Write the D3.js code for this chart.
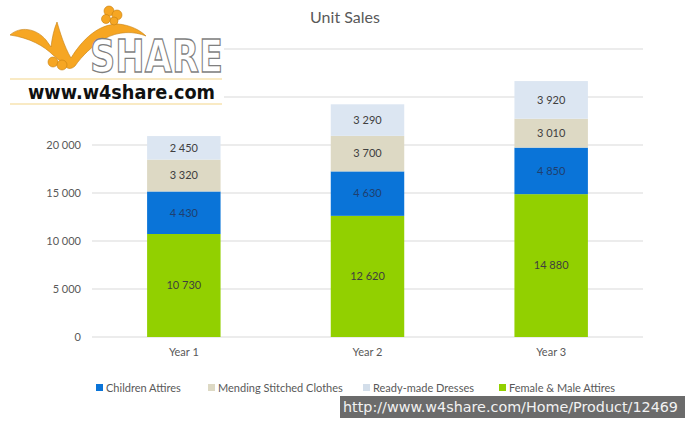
<!DOCTYPE html>
<html>
<head>
<meta charset="utf-8">
<script src="https://cdn.jsdelivr.net/npm/d3@7"></script>
<style>
  body { margin: 0; background: #fff; }
  svg { font-family: Lato, "Open Sans", sans-serif; }
</style>
</head>
<body>
<div id="chart"></div>
<script>
// data
const years = ["Year 1", "Year 2", "Year 3"];
const femaleMale = [10730, 12620, 14880];
const children = [4430, 4630, 4850];
const mending = [3320, 3700, 3010];
const readyMade = [2450, 3290, 3920];
const yTicks = [0, 5000, 10000, 15000, 20000, 25000, 30000];

const series = [
  { name: "Female & Male Attires", values: femaleMale, color: "#92d000", text: "#3f3f3f" },
  { name: "Children Attires", values: children, color: "#0a74d8", text: "#1f3f6f" },
  { name: "Mending Stitched Clothes", values: mending, color: "#ddd9c4", text: "#404040" },
  { name: "Ready-made Dresses", values: readyMade, color: "#dce6f2", text: "#404040" }
];
const legendOrder = [1, 2, 3, 0];

const W = 689, H = 423;
const svg = d3.select("#chart").append("svg").attr("width", W).attr("height", H);

const x = d3.scaleBand().domain(years).range([92, 643]).paddingInner(0.6).paddingOuter(0.3);
const y = d3.scaleLinear().domain([0, 30000]).range([337, 49]);
const fmt = v => d3.format(",")(v).replace(/,/g, " ");

// gridlines
svg.append("g").selectAll("line").data(yTicks).join("line")
  .attr("x1", 92).attr("x2", 643)
  .attr("y1", d => y(d)).attr("y2", d => y(d))
  .attr("stroke", "#d9d9d9").attr("stroke-width", 1);

// y labels (the top ones sit under the logo)
svg.append("g").selectAll("text").data(yTicks.filter(d => y(d) > 110)).join("text")
  .attr("x", 81).attr("y", d => y(d)).attr("dy", "0.35em")
  .attr("text-anchor", "end").attr("font-size", 11).attr("fill", "#595959")
  .text(d => fmt(d));

// stacked bars
const table = years.map((yr, i) => {
  const row = { year: yr };
  series.forEach(s => row[s.name] = s.values[i]);
  return row;
});
const stack = d3.stack().keys(series.map(s => s.name))(table);

stack.forEach((layer, li) => {
  const s = series[li];
  const g = svg.append("g");
  g.selectAll("rect").data(layer).join("rect")
    .attr("x", d => x(d.data.year))
    .attr("width", x.bandwidth())
    .attr("y", d => y(d[1]))
    .attr("height", d => y(d[0]) - y(d[1]))
    .attr("fill", s.color);
  g.selectAll("text").data(layer).join("text")
    .attr("x", d => x(d.data.year) + x.bandwidth() / 2)
    .attr("y", d => (y(d[0]) + y(d[1])) / 2)
    .attr("dy", "0.35em")
    .attr("text-anchor", "middle").attr("font-size", 11).attr("fill", s.text)
    .text(d => fmt(d[1] - d[0]));
});

// x labels
svg.append("g").selectAll("text").data(years).join("text")
  .attr("x", d => x(d) + x.bandwidth() / 2).attr("y", 356)
  .attr("text-anchor", "middle").attr("font-size", 11).attr("fill", "#595959")
  .text(d => d);

// title
svg.append("text").attr("x", 345).attr("y", 23)
  .attr("text-anchor", "middle").attr("font-size", 16).attr("fill", "#595959")
  .text("Unit Sales");

// legend
const legendX = [96, 208, 363, 499];
const lg = svg.append("g");
legendOrder.forEach((si, i) => {
  const s = series[si];
  lg.append("rect").attr("x", legendX[i]).attr("y", 384).attr("width", 7).attr("height", 7).attr("fill", s.color === "#dce6f2" ? "#d3deea" : s.color);
  lg.append("text").attr("x", legendX[i] + 10).attr("y", 388).attr("dy", "0.35em")
    .attr("font-size", 11).attr("fill", "#595959").text(s.name);
});

// logo
const logo = svg.append("g");
logo.append("rect").attr("x", 0).attr("y", 0).attr("width", 224).attr("height", 106).attr("fill", "#fff");
logo.append("path")
  .attr("d", "M10,35 C20,26 36,28 46,40 L51,47 C52,38 54,29 57,22 C60,32 64,46 71,58 C82,40 98,24 118,24 C130,25 140,30 146,36 C134,31 118,31 104,39 C92,46 82,56 75,66 C71,70 66,69 64,64 L53,55 C44,46 30,38 10,35 Z")
  .attr("fill", "#f6a623").attr("stroke", "#c67f10").attr("stroke-width", 0.6);
[[109, 11, 5], [117, 15, 5], [106, 19, 4.5], [114, 21, 4], [53, 62, 5], [62, 65, 5]].forEach(c => {
  logo.append("circle").attr("cx", c[0]).attr("cy", c[1]).attr("r", c[2])
    .attr("fill", "#f6a623").attr("stroke", "#c67f10").attr("stroke-width", 0.6);
});
logo.append("text").attr("x", 90).attr("y", 72)
  .attr("font-family", "'DejaVu Sans', sans-serif").attr("font-size", 44).attr("font-weight", "bold")
  .attr("textLength", 133).attr("lengthAdjust", "spacingAndGlyphs")
  .attr("fill", "#fff").attr("stroke", "#7f7f7f").attr("stroke-width", 1.3)
  .text("SHARE");
logo.append("line").attr("x1", 10).attr("x2", 222).attr("y1", 79).attr("y2", 79).attr("stroke", "#f3d58a").attr("stroke-width", 1.2);
logo.append("line").attr("x1", 10).attr("x2", 222).attr("y1", 104).attr("y2", 104).attr("stroke", "#f3d58a").attr("stroke-width", 1.2);
logo.append("text").attr("x", 28).attr("y", 99)
  .attr("font-family", "'DejaVu Sans', sans-serif").attr("font-size", 19).attr("font-weight", "bold")
  .attr("textLength", 187).attr("lengthAdjust", "spacingAndGlyphs")
  .attr("fill", "#111").text("www.w4share.com");

// watermark
svg.append("rect").attr("x", 340).attr("y", 396).attr("width", 345).attr("height", 22).attr("fill", "#6b6b6b");
svg.append("text").attr("x", 343).attr("y", 412)
  .attr("font-family", "'DejaVu Sans', sans-serif").attr("font-size", 14)
  .attr("textLength", 335).attr("lengthAdjust", "spacingAndGlyphs")
  .attr("fill", "#f2f2f2").text("http://www.w4share.com/Home/Product/12469");
</script>
</body>
</html>
